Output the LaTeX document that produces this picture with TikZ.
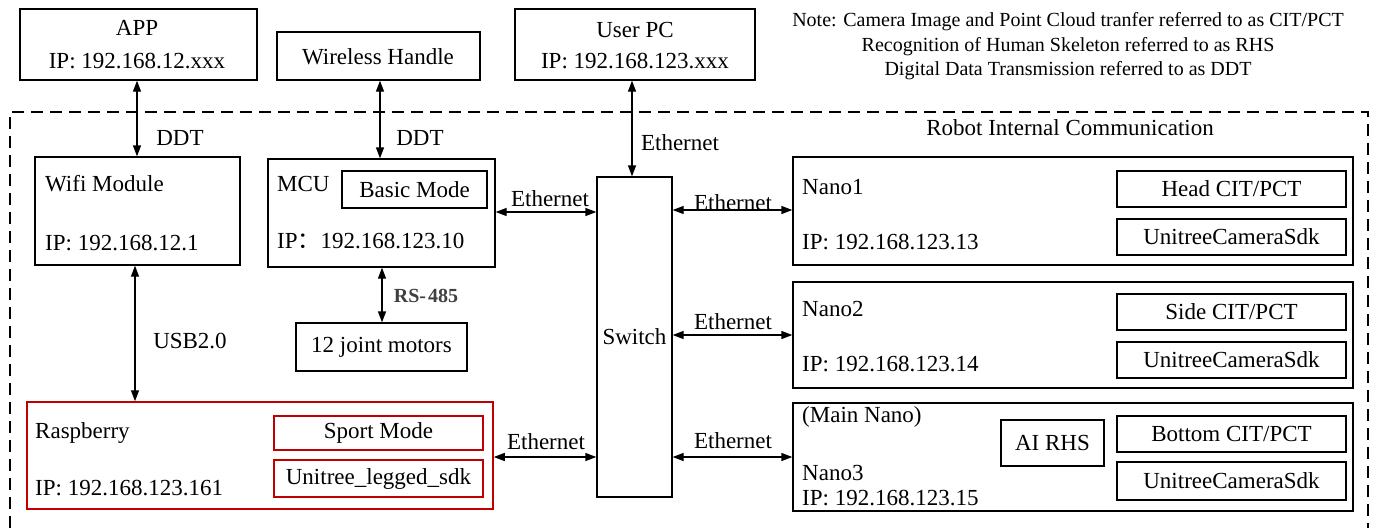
\documentclass[tikz,border=0pt]{standalone}
\usepackage{fontspec}
\setmainfont{Liberation Serif}
\newfontfamily\cjkfont{Noto Sans CJK SC}
\usetikzlibrary{arrows.meta,fit}
\definecolor{myred}{RGB}{192,0,0}
\begin{document}
\begin{tikzpicture}[x=1pt,y=-1pt,
  font=\fontsize{23}{27}\selectfont,
  box/.style={draw, line width=1.3pt, inner sep=0pt},
  redbox/.style={draw=myred, line width=1.5pt, inner sep=0pt},
  boxtext/.style={label={[inner sep=0pt]center:#1}},
  conn/.style={line width=1.3pt, {Triangle[length=11pt,width=8pt]}-{Triangle[length=11pt,width=8pt]}},
  lbl/.style={inner sep=0pt, anchor=base west},
  clbl/.style={inner sep=0pt, anchor=base},
  note/.style={inner sep=0pt, anchor=base, font=\fontsize{20}{24}\selectfont},
  border/.style={line width=1.5pt, dash pattern=on 12pt off 7pt}]
\useasboundingbox (0,0) rectangle (1380,528);

% outer dashed frame
\draw[border] (10,528) -- (10,112) -- (1368,112) -- (1368,528);
\node[clbl] (robot) at (1070,135) {Robot Internal Communication};

% note
\node[note] (n1) at (1068,26) {Note: Camera Image and Point Cloud tranfer referred to as CIT/PCT};
\node[note] (n2) at (1068,51) {Recognition of Human Skeleton referred to as RHS};
\node[note] (n3) at (1068,75) {Digital Data Transmission referred to as DDT};

% top boxes
\node[box, fit={(20,9)(257,80)}] (app) {};
\node[clbl] (appt) at (137,35) {APP};
\node[clbl] (appip) at (137,68) {IP: 192.168.12.xxx};

\node[box, fit={(277,32)(480,80)}] (wh) {};
\node[clbl] (wht) at (378,64) {Wireless Handle};

\node[box, fit={(515,9)(755,80)}] (pc) {};
\node[clbl] (pct) at (635,37) {User PC};
\node[clbl] (pcip) at (635,68) {IP: 192.168.123.xxx};

% wifi
\node[box, fit={(35,157)(240,265)}] (wifi) {};
\node[lbl] (wifit) at (45,191) {Wifi Module};
\node[lbl] (wifiip) at (45,250) {IP: 192.168.12.1};

% MCU
\node[box, fit={(268,159)(495,267)}] (mcu) {};
\node[lbl] (mcut) at (277,191) {MCU};
\node[lbl] (mcuip) at (277,248) {IP{\cjkfont ：}192.168.123.10};
\node[box, fit={(342,171)(487,208)}, boxtext={Basic Mode}] (basic) {};

% motors
\node[box, fit={(296,323)(467,371)}, boxtext={12 joint motors}] (motors) {};

% switch
\node[box, fit={(597,177)(672,497)}, boxtext={Switch}] (switch) {};

% raspberry
\node[redbox, fit={(27,402)(493,509)}] (rasp) {};
\node[lbl] (raspt) at (35,438) {Raspberry};
\node[lbl] (raspip) at (35,495) {IP: 192.168.123.161};
\node[redbox, fit={(274,416)(483,450)}, boxtext={Sport Mode}] (sport) {};
\node[redbox, fit={(274,460)(483,497)}, boxtext={Unitree\_legged\_sdk}] (legged) {};

% nano 1
\node[box, fit={(793,157)(1353,265)}] (nano1) {};
\node[lbl] (nano1t) at (802,194) {Nano1};
\node[lbl] (nano1ip) at (802,249) {IP: 192.168.123.13};
\node[box, fit={(1117,171)(1346,207)}, boxtext={Head CIT/PCT}] (head) {};
\node[box, fit={(1117,219)(1346,255)}, boxtext={UnitreeCameraSdk}] (sdk1) {};

% nano 2
\node[box, fit={(793,282)(1353,388)}] (nano2) {};
\node[lbl] (nano2t) at (802,316) {Nano2};
\node[lbl] (nano2ip) at (802,371) {IP: 192.168.123.14};
\node[box, fit={(1117,294)(1346,330)}, boxtext={Side CIT/PCT}] (side) {};
\node[box, fit={(1117,342)(1346,378)}, boxtext={UnitreeCameraSdk}] (sdk2) {};

% nano 3
\node[box, fit={(793,403)(1353,511)}] (nano3) {};
\node[lbl] (nano3m) at (802,422) {(Main Nano)};
\node[lbl] (nano3t) at (802,480) {Nano3};
\node[lbl] (nano3ip) at (802,505) {IP: 192.168.123.15};
\node[box, fit={(1001,420)(1104,466)}, boxtext={AI RHS}] (airhs) {};
\node[box, fit={(1117,416)(1346,452)}, boxtext={Bottom CIT/PCT}] (bottom) {};
\node[box, fit={(1117,462)(1346,500)}, boxtext={UnitreeCameraSdk}] (sdk3) {};

% reference coordinates for connector positions
\coordinate (xapp) at (137,0);
\coordinate (xwh) at (380,0);
\coordinate (xpc) at (632,0);
\coordinate (xrs) at (382,0);
\coordinate (xusb) at (135,0);
\coordinate (ymcu) at (0,212);
\coordinate (yn1) at (0,210);
\coordinate (yn2) at (0,335);
\coordinate (yn3) at (0,457);

% connectors
\draw[conn] (app.south -| xapp) -- (wifi.north -| xapp);
\draw[conn] (wh.south -| xwh) -- (mcu.north -| xwh);
\draw[conn] (pc.south -| xpc) -- (switch.north -| xpc);
\draw[conn] (mcu.east |- ymcu) -- (switch.west |- ymcu);
\draw[conn] (mcu.south -| xrs) -- (motors.north -| xrs);
\draw[conn] (wifi.south -| xusb) -- (rasp.north -| xusb);
\draw[conn] (rasp.east |- yn3) -- (switch.west |- yn3);
\draw[conn] (switch.east |- yn1) -- (nano1.west |- yn1);
\draw[conn] (switch.east |- yn2) -- (nano2.west |- yn2);
\draw[conn] (switch.east |- yn3) -- (nano3.west |- yn3);

% connector labels
\node[clbl] (l1) at (180,145) {DDT};
\node[clbl] (l2) at (420,145) {DDT};
\node[clbl] (l3) at (680,150) {Ethernet};
\node[clbl] (l4) at (550,206) {Ethernet};
\node[clbl, text=black!75, font=\fontsize{20}{24}\selectfont\bfseries] (l5) at (426,302) {RS-\hspace{2pt}485};
\node[clbl] (l6) at (190,348) {USB2.0};
\node[clbl] (l7) at (546,449) {Ethernet};
\node[clbl] (l8) at (733,210) {Ethernet};
\node[clbl] (l9) at (733,329) {Ethernet};
\node[clbl] (l10) at (733,448) {Ethernet};
\end{tikzpicture}
\end{document}
